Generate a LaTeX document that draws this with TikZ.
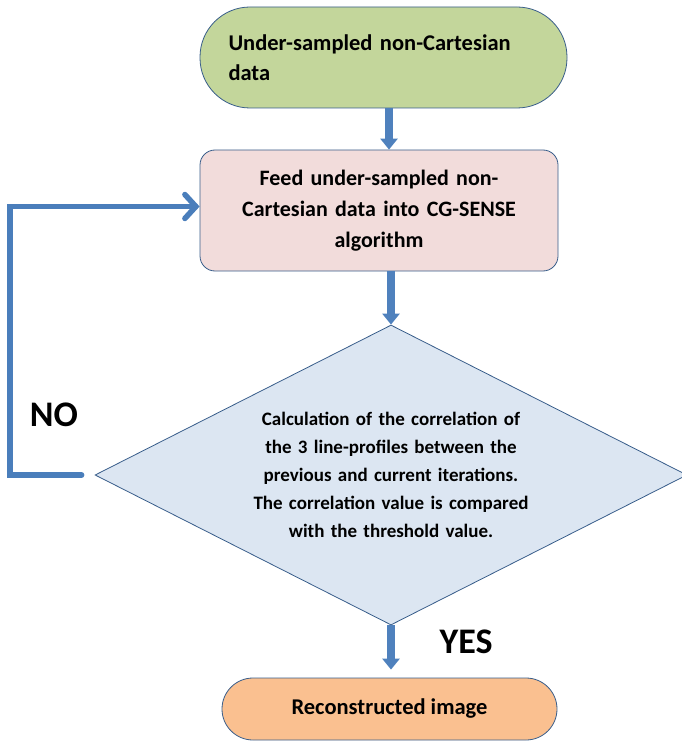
\documentclass[tikz,border=0pt]{standalone}
\usepackage{fontspec}
\setmainfont{Carlito}
\usetikzlibrary{shapes.geometric,arrows.meta}
\definecolor{startgreen}{HTML}{C3D69B}
\definecolor{feedpink}{HTML}{F2DCDB}
\definecolor{checkblue}{HTML}{DCE6F2}
\definecolor{endorange}{HTML}{FAC090}
\definecolor{edgeblue}{HTML}{385D8A}
\definecolor{arrowblue}{HTML}{4F81BD}
\definecolor{loopblue}{HTML}{4A7EBB}
\tikzset{
  terminal/.style={draw=edgeblue, line width=0.8pt, rectangle, font=\bfseries},
  blockarrow/.style={draw=arrowblue, line width=8pt, -{Triangle[width=17pt,length=11pt]}},
  loopline/.style={draw=loopblue, line width=5.5pt, line cap=round, line join=miter}
}
\begin{document}
\begin{tikzpicture}[x=1pt,y=-1pt]
\useasboundingbox (0,0) rectangle (681,746);
\node[terminal, fill=startgreen, minimum width=367pt, minimum height=101pt,
  rounded corners=50pt, text width=310pt, align=left,
  font=\bfseries\fontsize{22.5}{30}\selectfont] (start) at (383.5,57.5)
  {Under-sampled non-Cartesian\\data};
\node[terminal, fill=feedpink, minimum width=358pt, minimum height=121pt,
  rounded corners=15pt, text width=320pt, align=center,
  font=\bfseries\fontsize{22}{31}\selectfont] (feed) at (379,210.5)
  {Feed under-sampled non-\\Cartesian data into CG-SENSE\\algorithm};
\node[draw=edgeblue, line width=0.8pt, diamond, aspect=1.97, fill=checkblue, inner sep=0pt,
  minimum width=592pt, minimum height=300pt, text width=300pt, align=center,
  font=\bfseries\fontsize{19}{28}\selectfont] (check) at (391,475)
  {Calculation of the correlation of\\the 3 line-profiles between the\\previous and current iterations.\\The correlation value is compared\\with the threshold value.};
\node[terminal, fill=endorange, minimum width=335pt, minimum height=62pt,
  rounded corners=31pt, font=\bfseries\fontsize{22.5}{26}\selectfont] (recon) at (389.5,709)
  {Reconstructed image};
\draw[blockarrow] (start.south -| 389,0) -- (feed.north -| 389,0);
\draw[blockarrow] (feed.south -| 391,0) -- (check.north);
\draw[blockarrow, shorten >=8pt] (check.south) -- (recon.north -| check.south);
\coordinate (corner) at (10,475);
\draw[loopline, -{Straight Barb[length=11pt,width=24pt,line cap=round]}]
  ([xshift=-13pt]check.west) -- (corner) |- ([yshift=4pt]feed.west);
\node[font=\bfseries\fontsize{36}{40}\selectfont] (no) at (54,415) {NO};
\node[font=\bfseries\fontsize{36}{40}\selectfont] (yes) at (466,642) {YES};
\end{tikzpicture}
\end{document}
